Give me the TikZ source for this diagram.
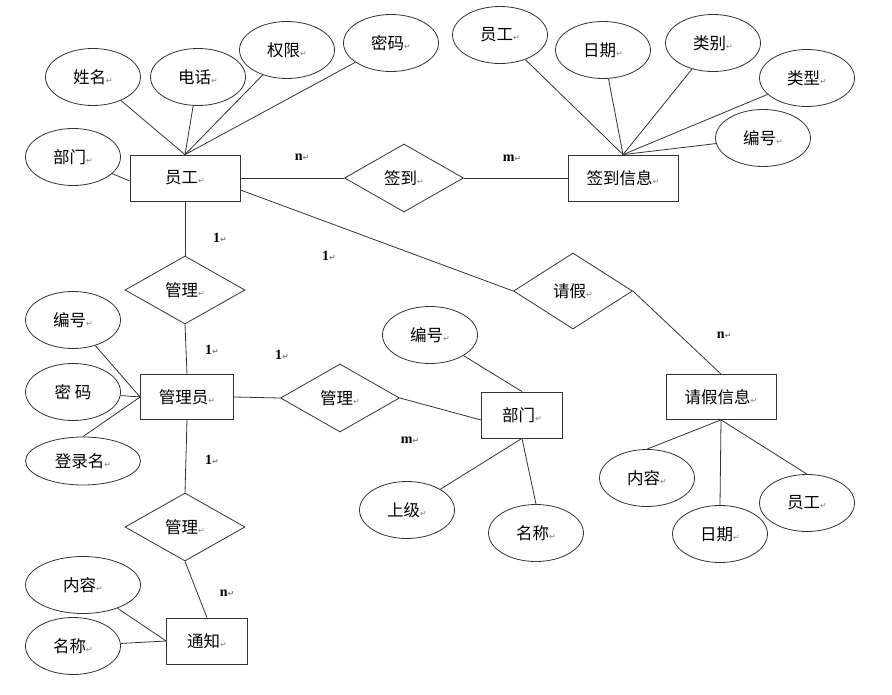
\documentclass[tikz,border=0pt]{standalone}
\usepackage{fontspec}
\usetikzlibrary{shapes.geometric}
\setmainfont{Liberation Serif}
\newfontfamily\cjk{Noto Sans CJK SC}
\newfontfamily\markfont{DejaVu Sans}
\newcommand{\rt}{{\markfont\fontsize{8}{8}\selectfont\color{gray}↵}}

\begin{document}
\begin{tikzpicture}[x=1pt,y=-1pt,line width=0.8pt,draw=black!80,
    every node/.style={font=\cjk\fontsize{16.5}{18}\selectfont},
    ent/.style={draw,rectangle,minimum width=#1,minimum height=46pt,inner sep=0pt},
    ent/.default=110pt,
    attr/.style={draw,ellipse,minimum width=#1,minimum height=57pt,inner sep=0pt},
    attr/.default=95pt,
    rel/.style={draw,diamond,minimum width=119pt,minimum height=68pt,inner sep=0pt},
    card/.style={font=\rmfamily\bfseries\fontsize{14}{14}\selectfont}]
      \useasboundingbox (0,0) rectangle (892,695);
      % entities
      \node[ent] (yg) at (185,178) {员工\rt};
      \node[ent] (qdxx) at (623,178) {签到信息\rt};
      \node[ent=93pt,minimum height=45pt] (gly) at (187,397) {管理员\rt};
      \node[ent=81pt] (bm) at (522,415) {部门\rt};
      \node[ent,minimum height=45pt] (qjxx) at (721,397) {请假信息\rt};
      \node[ent=81pt] (tz) at (207,641) {通知\rt};
      % relations
      \node[rel] (qd) at (404,178) {签到\rt};
      \node[rel,minimum height=76pt] (qj) at (573,291) {请假\rt};
      \node[rel,minimum width=120pt] (gl1) at (185,290) {管理\rt};
      \node[rel] (gl2) at (340,398) {管理\rt};
      \node[rel,minimum width=120pt] (gl3) at (185,527) {管理\rt};
      % attributes of 员工
      \node[attr] (ygxm) at (93,77) {姓名\rt};
      \node[attr] (ygdh) at (198,77) {电话\rt};
      \node[attr] (ygqx) at (287,50) {权限\rt};
      \node[attr] (ygmm) at (391,43) {密码\rt};
      \node[attr] (ygbm) at (73,157) {部门\rt};
      % attributes of 签到信息
      \node[attr] (qdyg) at (500,35) {员工\rt};
      \node[attr] (qdrq) at (603,50) {日期\rt};
      \node[attr] (qdlb) at (713,43) {类别\rt};
      \node[attr] (qdlx) at (807,78) {类型\rt};
      \node[attr] (qdbh) at (763,138) {编号\rt};
      % attributes of 管理员
      \node[attr] (glybh) at (73,320) {编号\rt};
      \node[attr] (glymm) at (73,392) {密\ 码};
      \node[attr=115pt,minimum height=48pt] (glydl) at (83,461) {登录名\rt};
      % attributes of 部门
      \node[attr] (bmbh) at (430,335) {编号\rt};
      \node[attr] (bmsj) at (407,510) {上级\rt};
      \node[attr] (bmmc) at (536,533) {名称\rt};
      % attributes of 请假信息
      \node[attr] (qjnr) at (647,478) {内容\rt};
      \node[attr] (qjrq) at (720,534) {日期\rt};
      \node[attr] (qjyg) at (807,503) {员工\rt};
      % attributes of 通知
      \node[attr=115pt] (tznr) at (83,585) {内容\rt};
      \node[attr] (tzmc) at (73,646) {名称\rt};
      % connectors
      \draw (ygxm) -- (yg.north);
      \draw (ygdh) -- (yg.north);
      \draw (ygqx) -- (yg.north);
      \draw (ygmm) -- (yg.north);
      \draw (ygbm) -- ([yshift=-3pt]yg.west);
      \draw (qdyg) -- (qdxx.north);
      \draw (qdrq) -- (qdxx.north);
      \draw (qdlb) -- (qdxx.north);
      \draw (qdlx) -- (qdxx.north);
      \draw (qdbh) -- (qdxx.north);
      \draw (yg.east) -- (qd.west);
      \draw (qd.east) -- (qdxx.west);
      \draw ([yshift=-12pt]yg.east) -- (qj.west);
      \draw (qj.east) -- (qjxx.north);
      \draw (yg.south) -- (gl1.north);
      \draw (gl1.south) -- (gly.north);
      \draw (glybh) -- (gly.west);
      \draw (glymm) -- (gly.west);
      \draw (glydl.north) -- (gly.west);
      \draw (gly.east) -- (gl2.west);
      \draw (gl2.east) -- ([yshift=-5pt]bm.west);
      \draw (bmbh) -- (bm.north);
      \draw (bm.south) -- (bmsj);
      \draw (bm.south) -- (bmmc.north);
      \draw (qjxx.south) -- (qjnr.north);
      \draw (qjxx.south) -- (qjrq.north);
      \draw (qjxx.south) -- (qjyg.north);
      \draw (gly.south) -- (gl3.north);
      \draw (gl3.south) -- (tz.north);
      \draw (tznr) -- (tz.west);
      \draw (tzmc) -- (tz.west);
      % cardinalities
      \node[card] (c1) at (302,157) {n\rt};
      \node[card] (c2) at (512,158) {m\rt};
      \node[card] (c3) at (220,238) {1\rt};
      \node[card] (c4) at (329,256) {1\rt};
      \node[card] (c5) at (724,335) {n\rt};
      \node[card] (c6) at (212,350) {1\rt};
      \node[card] (c7) at (282,355) {1\rt};
      \node[card] (c8) at (410,440) {m\rt};
      \node[card] (c9) at (212,460) {1\rt};
      \node[card] (c10) at (227,593) {n\rt};
\end{tikzpicture}
\end{document}
